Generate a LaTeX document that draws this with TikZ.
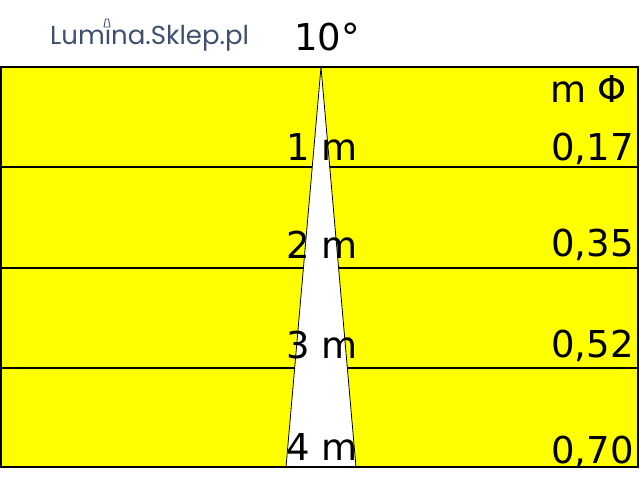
\documentclass[tikz,border=0pt]{standalone}
\usepackage{fontspec}
\setmainfont{DejaVu Sans}
\newfontfamily\logofont{Poppins}
\usepackage{xcolor}
\usetikzlibrary{positioning}
\definecolor{logoblue}{RGB}{62,80,110}
\definecolor{bandyellow}{RGB}{255,255,0}

\begin{document}
\begin{tikzpicture}[x=1pt,y=-1pt,
                    every node/.style={inner sep=0pt,font=\fontsize{37}{40}\selectfont},
                    band/.style={fill=bandyellow,draw=black,line width=1.5pt},
                    rule/.style={draw=black,line width=1.5pt}]
    \useasboundingbox (0,0) rectangle (640,480);
    %Bands
        \path[band] (1,67) rectangle (638,467);
        \foreach \y in {167,268,368} {
            \draw[rule] (1,\y) -- (638,\y);
        }
    %Beam
        \coordinate (apex) at (321,67);
        \coordinate (baseL) at (286,467);
        \coordinate (baseR) at (356,467);
        \draw[fill=white,line width=0.8pt] (apex) -- (baseL) -- (baseR) -- cycle;
        \draw[rule] (1,67) -- (638,67);
        \draw[rule] (1,467) -- (638,467);
    %Labels
        \node[anchor=base west,text=logoblue,font=\logofont\fontsize{26}{29}\selectfont] (logo) at (50,44) {Lum\i na.Sklep.pl};
        \draw[logoblue,line width=0.9pt,line join=round] (104,27) -- (105.5,19) -- (108.5,19) -- (110,27) -- cycle;
        \node[anchor=base] (angle) at (327,50) {10°};
        \node[anchor=base west] (unit) at (550,102) {m Φ};
        \node[anchor=base] (d1) at (322,160) {1 m};
        \node[anchor=base] (d2) at (322,258) {2 m};
        \node[anchor=base] (d3) at (322,358) {3 m};
        \node[anchor=base] (d4) at (322,460) {4 m};
        \node[anchor=base east] (v1) at (634,160) {0,17};
        \node[anchor=base east] (v2) at (634,256) {0,35};
        \node[anchor=base east] (v3) at (634,357) {0,52};
        \node[anchor=base east] (v4) at (634,463) {0,70};
\end{tikzpicture}
\end{document}
